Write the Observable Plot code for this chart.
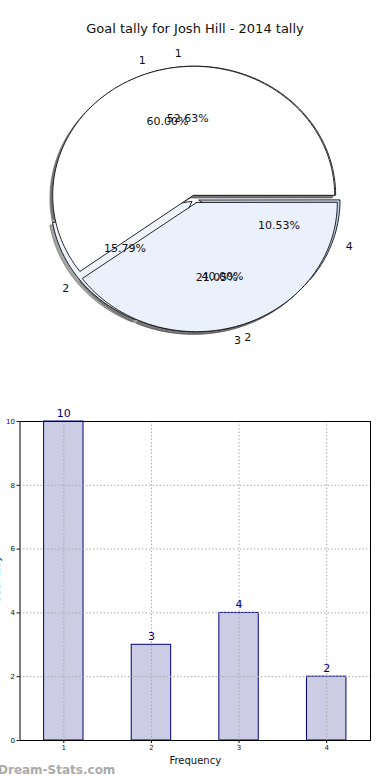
<!DOCTYPE html>
<html>
<head>
<meta charset="utf-8">
<script src="https://cdn.jsdelivr.net/npm/d3@7"></script>
<script src="https://cdn.jsdelivr.net/npm/@observablehq/plot@0.6"></script>
<style>
  html, body { margin: 0; padding: 0; background: #fff; overflow: hidden; }
  #wrap { position: relative; width: 390px; height: 780px; background: #fff; font-family: "DejaVu Sans", sans-serif; }
  #title { position: absolute; left: 0; top: 21px; width: 390px; text-align: center; font-size: 13px; color: #111; }
  #pie { position: absolute; left: 0; top: 0; }
  #bar { position: absolute; left: 0; top: 390px; }
  #ylab { position: absolute; left: -39px; top: 574px; width: 70px; text-align: center; font-size: 10px; color: #111; transform: rotate(-90deg); transform-origin: 50% 50%; }
  #wm { position: absolute; left: -2px; top: 763px; font-size: 12px; font-weight: bold; color: #ababab; font-family: "DejaVu Sans", sans-serif; }
</style>
</head>
<body>
<div id="wrap">
  <div id="pie"></div>
  <div id="title">Goal tally for Josh Hill - 2014 tally</div>
  <div id="bar"></div>
  <div id="ylab">Goal Tally</div>
  <div id="wm">Dream-Stats.com</div>
</div>
<script>
// ---- data ----
const pieALabels = ["1", "2", "3", "4"];
const pieAValues = [10, 3, 4, 2];
const pieAColors = ["#ffffff", "#eef3fc", "#dfe9f8", "#bcd2ef"];
const pieBLabels = ["1", "2"];
const pieBValues = [3, 2];
const pieBColors = ["#ffffff", "#eaf0fc"];
const explodeA = 0.03;
const explodeB = 0.03;

const barCategories = [1, 2, 3, 4];
const barValues = [10, 3, 4, 2];
const yTickValues = [0, 2, 4, 6, 8, 10];

// ---- pie geometry from data ----
function buildPie(labels, values, colors, explode) {
  const total = d3.sum(values);
  let start = 0;
  return values.map((v, i) => {
    const a0 = start, a1 = start + 360 * v / total;
    start = a1;
    const m = (a0 + a1) / 2 * Math.PI / 180;
    const cx = explode * Math.cos(m), cy = explode * Math.sin(m);
    const pts = [{x: cx, y: cy}];
    const N = Math.max(8, Math.ceil((a1 - a0) / 2));
    for (let n = 0; n <= N; n++) {
      const t = (a0 + (a1 - a0) * n / N) * Math.PI / 180;
      pts.push({x: cx + Math.cos(t), y: cy + Math.sin(t)});
    }
    return {
      label: labels[i], color: colors[i], pts,
      lx: cx + 1.1 * Math.cos(m), ly: cy + 1.1 * Math.sin(m),
      px: cx + 0.6 * Math.cos(m), py: cy + 0.6 * Math.sin(m),
      pct: (100 * v / total).toFixed(2) + "%"
    };
  });
}
const pieA = buildPie(pieALabels, pieAValues, pieAColors, explodeA);
const pieB = buildPie(pieBLabels, pieBValues, pieBColors, explodeB);

const rxPx = 141, ryPx = 129, cxPx = 194.5, cyPx = 198.5, H = 390;
const shadowMarks = [];
const wedgeMarks = [];
for (const s of [...pieA, ...pieB]) {
  shadowMarks.push(Plot.line(s.pts, {
    x: d => d.x - 0.02, y: d => d.y - 0.02, curve: "linear-closed",
    fill: "#4d4d4d", fillOpacity: 0.5, stroke: "#4d4d4d", strokeOpacity: 0.5, strokeWidth: 1
  }));
}
for (const s of [...pieA, ...pieB]) {
  wedgeMarks.push(Plot.line(s.pts, {
    x: "x", y: "y", curve: "linear-closed",
    fill: s.color, stroke: "#111", strokeWidth: 0.9
  }));
}
const textMarks = [];
for (const pie of [pieA, pieB]) {
  textMarks.push(Plot.text(pie.filter(s => s.lx >= 0), {x: "lx", y: "ly", text: "label", textAnchor: "start", fontSize: 11, fill: "#111"}));
  textMarks.push(Plot.text(pie.filter(s => s.lx < 0), {x: "lx", y: "ly", text: "label", textAnchor: "end", fontSize: 11, fill: "#111"}));
  textMarks.push(Plot.text(pie, {x: "px", y: "py", text: "pct", fontSize: 11, fill: "#111"}));
}

const piePlot = Plot.plot({
  width: 390, height: H,
  marginTop: 0, marginBottom: 0, marginLeft: 0, marginRight: 0,
  x: {domain: [-cxPx / rxPx, (390 - cxPx) / rxPx], axis: null},
  y: {domain: [-(H - cyPx) / ryPx, cyPx / ryPx], axis: null},
  style: {fontFamily: "DejaVu Sans, sans-serif", background: "transparent"},
  marks: [...shadowMarks, ...wedgeMarks, ...textMarks]
});
document.getElementById("pie").appendChild(piePlot);

// ---- bar chart ----
const bars = barCategories.map((c, i) => ({c, v: barValues[i]}));
const barPlot = Plot.plot({
  width: 390, height: 390,
  marginLeft: 19.5, marginRight: 20, marginTop: 31, marginBottom: 40,
  x: {domain: [0.5, 4.5]},
  y: {domain: [0, 10]},
  style: {fontFamily: "DejaVu Sans, sans-serif", fontSize: "7px", background: "transparent", color: "#111"},
  marks: [
    Plot.rectY(bars, {x1: d => d.c - 0.225, x2: d => d.c + 0.225, y1: 0, y2: "v", fill: "#ccccE5", stroke: "#000080", strokeWidth: 1}),
    Plot.gridX(barCategories, {stroke: "#aaaaaa", strokeOpacity: 1, strokeDasharray: "1.5,2"}),
    Plot.gridY(yTickValues, {stroke: "#aaaaaa", strokeOpacity: 1, strokeDasharray: "1.5,2"}),
    Plot.frame({stroke: "#000", strokeWidth: 1}),
    Plot.text(bars, {x: "c", y: "v", text: d => String(d.v), dy: -8, fontSize: 11, fill: "#000080"}),
    Plot.axisX(barCategories, {tickSize: 3, tickPadding: 2, label: null, fontSize: 7, tickFormat: d => String(d)}),
    Plot.axisY(yTickValues, {tickSize: 3, tickPadding: 2, label: null, fontSize: 7, tickFormat: d => String(d)}),
    Plot.text(["Frequency"], {frameAnchor: "bottom", dy: 23, fontSize: 10, fill: "#111"})
  ]
});
document.getElementById("bar").appendChild(barPlot);
</script>
</body>
</html>
